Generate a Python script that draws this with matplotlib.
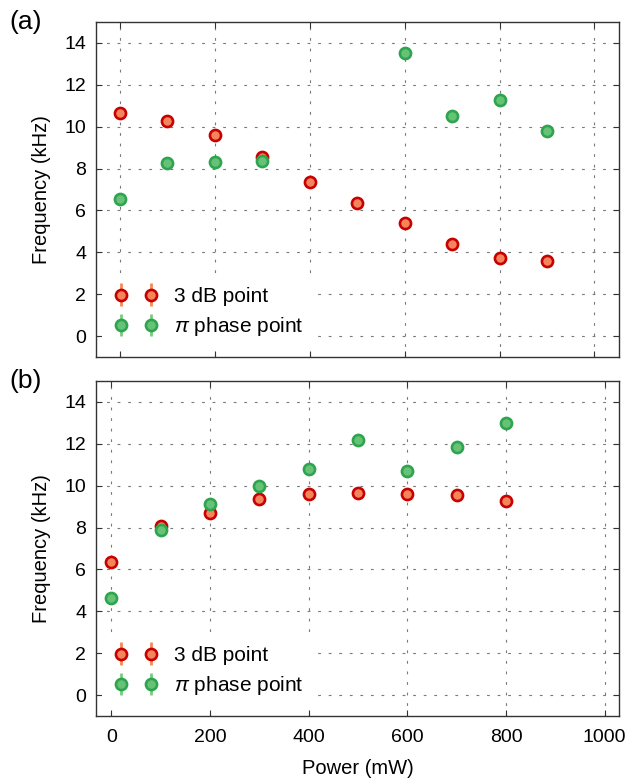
import matplotlib
matplotlib.use("Agg")
import matplotlib.pyplot as plt
from matplotlib.container import ErrorbarContainer
from matplotlib.legend_handler import HandlerErrorbar

plt.rcParams['font.family'] = ['Liberation Sans', 'DejaVu Sans']
plt.rcParams['mathtext.fontset'] = 'custom'
plt.rcParams['mathtext.it'] = 'Liberation Sans:italic'
plt.rcParams['mathtext.rm'] = 'Liberation Sans'

# ---- data ----
power_a = [0, 100, 200, 300, 400, 500, 600, 700, 800, 900]
db3_a = [10.67, 10.29, 9.59, 8.55, 7.36, 6.35, 5.38, 4.41, 3.74, 3.58]
db3_a_err = [0.1] * 10
power_a_pi = [0, 100, 200, 300, 600, 700, 800, 900]
pi_a = [6.54, 8.26, 8.31, 8.36, 13.50, 10.52, 11.27, 9.78]
pi_a_err = [0.1] * 8

power_b = [0, 100, 200, 300, 400, 500, 600, 700, 800]
db3_b = [6.36, 8.07, 8.71, 9.36, 9.58, 9.65, 9.60, 9.55, 9.26]
db3_b_err = [0.1] * 9
pi_b = [4.62, 7.87, 9.11, 9.98, 10.81, 12.18, 10.69, 11.87, 13.01]
pi_b_err = [0.1] * 9

x_ticks = [0, 200, 400, 600, 800, 1000]
y_ticks = [0, 2, 4, 6, 8, 10, 12, 14]
labels = ['3 dB point', r'$\pi$ phase point']
panel_names = ['(a)', '(b)']

red_edge, red_face, red_err = '#c80000', '#f4845c', '#f58a55'
grn_edge, grn_face, grn_err = '#2fa44f', '#66c277', '#78cc80'

W, H = 629, 779
fig = plt.figure(figsize=(W / 100, H / 100), dpi=100)
ax_a = fig.add_axes([96 / W, 1 - 357 / H, 523 / W, 335 / H])
ax_b = fig.add_axes([96 / W, 1 - 716 / H, 523 / W, 335 / H])


def series(ax, x, y, e, edge, face, ecol, lab):
    return ax.errorbar(x, y, yerr=e, fmt='o', ms=8, mew=1.9, mec=edge, mfc=face,
                       ecolor=ecol, elinewidth=2, capsize=0, label=lab, zorder=3)


for ax, (xr, yr, er, xg, yg, eg), xl, name in [
        (ax_a, (power_a, db3_a, db3_a_err, power_a_pi, pi_a, pi_a_err), (-50.6, 1051.7), panel_names[0]),
        (ax_b, (power_b, db3_b, db3_b_err, power_b, pi_b, pi_b_err), (-31, 1029), panel_names[1])]:
    series(ax, xr, yr, er, red_edge, red_face, red_err, labels[0])
    series(ax, xg, yg, eg, grn_edge, grn_face, grn_err, labels[1])
    ax.set_xlim(*xl)
    ax.set_ylim(-1, 15)
    ax.set_xticks(x_ticks)
    ax.set_yticks(y_ticks)
    ax.grid(True, color='#7a7a7a', lw=0.8, ls=(0, (2.5, 7)))
    ax.set_axisbelow(True)
    ax.tick_params(direction='in', length=4, width=0.8, top=True, right=True,
                   labelsize=14, color='#333333', pad=7)
    ax.tick_params(axis='x', pad=9)
    for s in ax.spines.values():
        s.set_color('#333333')
        s.set_linewidth(1.0)
    ax.set_ylabel('Frequency (kHz)', fontsize=14.5, labelpad=10)
    ax.legend(loc='lower left', numpoints=2, fontsize=15, frameon=True,
              facecolor='white', edgecolor='none', framealpha=1, fancybox=False,
              handlelength=2.04, handletextpad=0.8, labelspacing=0.45,
              borderaxespad=0.3, borderpad=0.6,
              handler_map={ErrorbarContainer: HandlerErrorbar(yerr_size=0.55)})
    ax.text(-0.166, 1.0, name, transform=ax.transAxes, fontsize=19,
            ha='left', va='center')

ax_a.tick_params(labelbottom=False)
ax_b.set_xlabel('Power (mW)', fontsize=14.5, labelpad=10)

fig.savefig('out.png', dpi=100)
